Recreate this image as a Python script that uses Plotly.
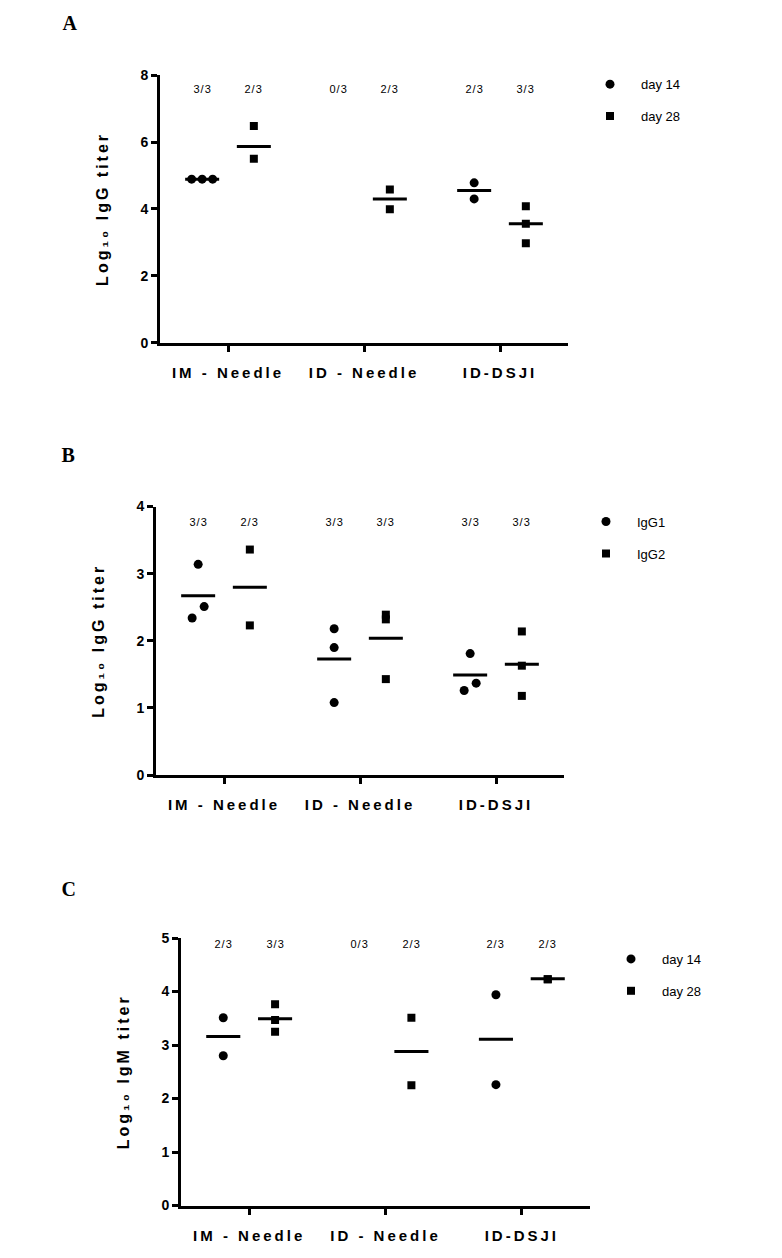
import plotly.graph_objects as go

# ---------------- data ----------------
CATEGORIES = ["IM - Needle", "ID - Needle", "ID-DSJI"]

# Panel A: Log10 IgG titer
A_SERIES = ["day 14", "day 28"]
A_DAY14 = [[4.89, 4.89, 4.89], [], [4.78, 4.30]]
A_DAY28 = [[6.48, 5.50], [4.58, 3.99], [4.08, 3.56, 2.97]]
A_MEAN14 = [4.89, None, 4.55]
A_MEAN28 = [5.87, 4.30, 3.56]
A_RESP14 = ["3/3", "0/3", "2/3"]
A_RESP28 = ["2/3", "2/3", "3/3"]

# Panel B: Log10 IgG titer (subclasses)
B_SERIES = ["IgG1", "IgG2"]
B_IGG1 = [[3.14, 2.51, 2.34], [2.18, 1.90, 1.08], [1.81, 1.37, 1.26]]
B_IGG2 = [[3.36, 2.23], [2.39, 2.32, 1.43], [2.14, 1.63, 1.18]]
B_MEAN1 = [2.67, 1.73, 1.49]
B_MEAN2 = [2.80, 2.04, 1.65]
B_RESP1 = ["3/3", "3/3", "3/3"]
B_RESP2 = ["2/3", "3/3", "3/3"]

# Panel C: Log10 IgM titer
C_SERIES = ["day 14", "day 28"]
C_DAY14 = [[3.51, 2.80], [], [3.94, 2.26]]
C_DAY28 = [[3.76, 3.47, 3.25], [3.51, 2.25], [4.23, 4.23]]
C_MEAN14 = [3.16, None, 3.11]
C_MEAN28 = [3.49, 2.88, 4.24]
C_RESP14 = ["2/3", "0/3", "2/3"]
C_RESP28 = ["3/3", "2/3", "2/3"]

# ---------------- layout constants ----------------
W, H = 782, 1258
FONT = "Liberation Sans"
# plot areas in pixels: left, right, top, bottom
BOXES = {
    "A": (160, 568, 68, 339),
    "B": (156, 564, 505, 777),
    "C": (181, 590, 942, 1213),
}
YMAX = {"A": 8, "B": 4, "C": 5}
DTICK = {"A": 2, "B": 1, "C": 1}
YTITLE = {"A": "Log₁₀ IgG titer", "B": "Log₁₀ IgG titer", "C": "Log₁₀ IgM titer"}
GROUP_OFF = 0.19      # offset of each series from category centre
HALF_LINE = 0.125     # half width of mean bar
RESP_Y = {"A": 7.58, "B": 3.77, "C": 4.89}
# horizontal spreading (pixels) the original software applied to crowded points
SPREAD = {
    ("A", 0): [[-10.5, 0, 10.5], [], [0, 0]],
    ("B", 0): [[0, 6, -6], [0, 0, 0], [0, 6, -6]],
}
LEGEND_POS = {"A": (579, 62), "B": (575, 505), "C": (600, 948)}
LETTER_POS = {"A": (70, 15), "B": (68, 453), "C": (69, 892)}

PANELS = [
    ("A", A_SERIES, [A_DAY14, A_DAY28], [A_MEAN14, A_MEAN28], [A_RESP14, A_RESP28]),
    ("B", B_SERIES, [B_IGG1, B_IGG2], [B_MEAN1, B_MEAN2], [B_RESP1, B_RESP2]),
    ("C", C_SERIES, [C_DAY14, C_DAY28], [C_MEAN14, C_MEAN28], [C_RESP14, C_RESP28]),
]
SYMBOLS = ["circle", "square"]
MSIZE = [9, 8]

fig = go.Figure()
annotations = []

for pi, (key, names, series, means, resp) in enumerate(PANELS):
    sfx = "" if pi == 0 else str(pi + 1)
    xref, yref = "x" + sfx, "y" + sfx
    l, r, t, b = BOXES[key]
    px_per_unit = (r - l) / 3.0
    legend_name = "legend" + sfx
    for si in range(2):
        off = -GROUP_OFF if si == 0 else GROUP_OFF
        xs, ys = [], []
        spread = SPREAD.get((key, si))
        for ci, vals in enumerate(series[si]):
            for k, v in enumerate(vals):
                sp = spread[ci][k] if spread else 0
                xs.append(ci + off + sp / px_per_unit)
                ys.append(v)
        fig.add_trace(go.Scatter(
            x=xs, y=ys, mode="markers", name=names[si],
            marker=dict(symbol=SYMBOLS[si], size=MSIZE[si], color="black",
                        line=dict(width=0)),
            xaxis=xref, yaxis=yref, legend=legend_name,
            legendgroup=key + names[si], showlegend=True,
        ))
        # mean bars
        lx, ly = [], []
        for ci, m in enumerate(means[si]):
            if m is None:
                continue
            c = ci + off
            lx += [c - HALF_LINE, c + HALF_LINE, None]
            ly += [m, m, None]
        fig.add_trace(go.Scatter(
            x=lx, y=ly, mode="lines", line=dict(color="black", width=3),
            xaxis=xref, yaxis=yref, showlegend=False, hoverinfo="skip",
        ))
        # responder counts
        for ci, txt in enumerate(resp[si]):
            annotations.append(dict(
                x=ci + off, y=RESP_Y[key], xref=xref, yref=yref, text=txt,
                showarrow=False, font=dict(family=FONT, size=11, color="black"),
                xanchor="center", yanchor="middle",
            ))

    dom_x = [l / W, r / W]
    dom_y = [1 - b / H, 1 - t / H]
    common = dict(showgrid=False, zeroline=False, showline=True, linewidth=3,
                  linecolor="black", ticks="outside", ticklen=6, tickwidth=3,
                  tickcolor="black")
    fig.update_layout(**{
        "xaxis" + sfx: dict(domain=dom_x, range=[-0.5, 2.5], tickmode="array",
                            tickvals=[0, 1, 2], ticktext=CATEGORIES,
                            tickfont=dict(family=FONT, size=15, color="black", weight="bold"),
                            anchor=yref, ticklabelstandoff=8, **common),
        "yaxis" + sfx: dict(domain=dom_y, range=[0, YMAX[key]], dtick=DTICK[key],
                            tick0=0, anchor=xref,
                            tickfont=dict(family=FONT, size=14, color="black", weight="bold"),
                            title=dict(text=YTITLE[key], standoff=28,
                                       font=dict(family=FONT, size=16, color="black",
                                                 weight="bold")),
                            **common),
        legend_name: dict(x=LEGEND_POS[key][0] / W, y=1 - LEGEND_POS[key][1] / H,
                          xanchor="left", yanchor="top", bgcolor="rgba(0,0,0,0)",
                          font=dict(family=FONT, size=13, color="black"),
                          tracegroupgap=12, traceorder="grouped", itemwidth=52),
    })
    lx_, ly_ = LETTER_POS[key]
    annotations.append(dict(
        x=lx_ / W, y=1 - ly_ / H, xref="paper", yref="paper", text=key,
        showarrow=False, xanchor="center", yanchor="middle",
        font=dict(family="Liberation Serif", size=20, color="black", weight="bold"),
    ))

fig.update_layout(
    width=W, height=H, margin=dict(l=0, r=0, t=0, b=0),
    paper_bgcolor="white", plot_bgcolor="white",
    annotations=annotations, showlegend=True,
)

post = (
    "document.body.style.margin='0';"
    "var s=document.createElement('style');"
    "s.textContent='.xaxislayer-above text{letter-spacing:3px}"
    ".annotation-text{letter-spacing:1px}"
    ".ytitle,.y2title,.y3title{letter-spacing:3px}';"
    "document.head.appendChild(s);"
)
fig.write_html("out.html", post_script=post, config={"displayModeBar": False})
